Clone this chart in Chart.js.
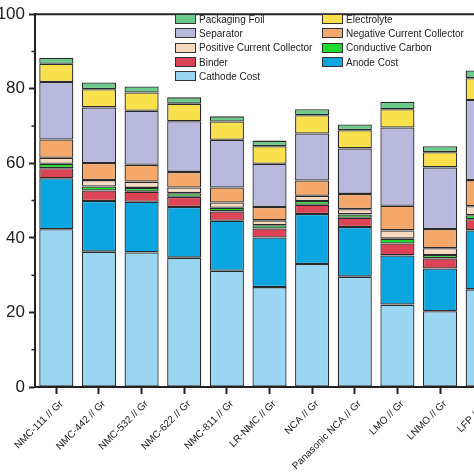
<!DOCTYPE html>
<html>
<head>
<meta charset="utf-8">
<script src="https://cdn.jsdelivr.net/npm/chart.js@4.4.0/dist/chart.umd.min.js"></script>
<style>
  html, body { margin: 0; padding: 0; background: #fff; overflow: hidden; }
  #wrap { position: relative; width: 474px; height: 474px; overflow: hidden; }
  #wrap canvas { position: absolute; left: 0; top: 0; }
  #legend {
    position: absolute; left: 175px; top: 12px;
    display: grid; grid-template-columns: 147px auto;
    font-family: Arial, "Liberation Sans", sans-serif; font-size: 10px; color: #222;
  }
  #legend .item { display: flex; align-items: center; height: 14.3px; white-space: nowrap; }
  #legend .box { width: 19px; height: 8px; border: 1px solid #333; margin-right: 3px; }
</style>
</head>
<body>
<div id="wrap">
  <canvas id="costChart" width="510" height="474"></canvas>
  <div id="legend"></div>
</div>
<script>
const categories = ['NMC-111 // Gr', 'NMC-442 // Gr', 'NMC-532 // Gr', 'NMC-622 // Gr', 'NMC-811 // Gr',
  'LR-NMC // Gr', 'NCA // Gr', 'Panasonic NCA // Gr', 'LMO // Gr', 'LNMO // Gr', 'LFP // Gr'];

// stack order, bottom to top
const cathodeCost      = [42.3, 36.3, 36.1, 34.7, 31.2, 26.8, 33.0, 29.6, 22.1, 20.3, 26.2];
const anodeCost        = [13.7, 13.6, 13.6, 13.6, 13.4, 13.3, 13.4, 13.3, 13.2, 11.5, 15.8];
const binder           = [2.7, 2.8, 2.7, 2.7, 2.5, 2.4, 2.5, 2.5, 3.2, 2.7, 3.0];
const conductiveCarbon = [1.2, 1.1, 1.0, 1.0, 1.0, 0.9, 1.0, 0.9, 1.3, 0.9, 1.1];
const positiveCC       = [1.6, 1.7, 1.7, 1.5, 1.4, 1.3, 1.4, 1.4, 2.2, 1.8, 2.4];
const negativeCC       = [4.9, 4.6, 4.5, 4.2, 4.0, 3.6, 4.1, 4.1, 6.6, 5.2, 7.0];
const separator        = [15.4, 14.9, 14.5, 13.6, 12.8, 11.6, 12.6, 12.2, 21.0, 16.5, 21.5];
const electrolyte      = [4.9, 4.9, 4.9, 4.7, 4.9, 4.7, 4.9, 4.9, 4.9, 4.1, 5.8];
const packagingFoil    = [1.6, 1.8, 1.6, 1.7, 1.4, 1.5, 1.6, 1.5, 2.0, 1.6, 2.1];

const yTicks = [0, 20, 40, 60, 80, 100];
const minorTicks = [10, 30, 50, 70, 90];

const axisColor = '#222';

const series = [
  { label: 'Cathode Cost', data: cathodeCost, color: '#9ad6f1' },
  { label: 'Anode Cost', data: anodeCost, color: '#0ba6df' },
  { label: 'Binder', data: binder, color: '#dc4456' },
  { label: 'Conductive Carbon', data: conductiveCarbon, color: '#1fd82a' },
  { label: 'Positive Current Collector', data: positiveCC, color: '#f7dabf' },
  { label: 'Negative Current Collector', data: negativeCC, color: '#f4a86c' },
  { label: 'Separator', data: separator, color: '#b9b9dd' },
  { label: 'Electrolyte', data: electrolyte, color: '#f8e14c' },
  { label: 'Packaging Foil', data: packagingFoil, color: '#6ccb8c' },
];

// legend: two columns, read row by row from the top of the stack down
const legend = document.getElementById('legend');
series.slice().reverse().forEach(s => {
  const item = document.createElement('div');
  item.className = 'item';
  item.innerHTML = '<span class="box" style="background:' + s.color + '"></span>' + s.label;
  legend.appendChild(item);
});

const frameLines = {
  id: 'frameLines',
  afterDraw(chart) {
    const { ctx, chartArea, scales } = chart;
    ctx.save();
    ctx.strokeStyle = axisColor;
    ctx.lineWidth = 2;
    ctx.beginPath();
    ctx.moveTo(chartArea.left, chartArea.top);
    ctx.lineTo(chartArea.right, chartArea.top);
    ctx.stroke();
    ctx.lineWidth = 1.5;
    ctx.beginPath();
    minorTicks.forEach(v => {
      const y = scales.y.getPixelForValue(v);
      ctx.moveTo(chartArea.left - 3.5, y);
      ctx.lineTo(chartArea.left, y);
    });
    ctx.stroke();
    ctx.restore();
  }
};

new Chart(document.getElementById('costChart'), {
  type: 'bar',
  data: {
    labels: categories,
    datasets: series.map(s => ({
      label: s.label,
      data: s.data,
      backgroundColor: s.color,
      borderColor: '#2b2b2b',
      borderWidth: 1.3,
      borderSkipped: false,
      barPercentage: 0.8,
      categoryPercentage: 1.0,
    })),
  },
  options: {
    responsive: false,
    animation: false,
    layout: { padding: { top: 10, right: 6, left: 0, bottom: 0 } },
    plugins: { legend: { display: false }, tooltip: { enabled: false } },
    scales: {
      x: {
        stacked: true,
        grid: { display: true, drawOnChartArea: false, offset: false, tickLength: 7, tickWidth: 2, tickColor: axisColor },
        border: { display: true, color: axisColor, width: 2 },
        ticks: {
          autoSkip: false, maxRotation: 45, minRotation: 45, padding: 4, labelOffset: 5,
          color: axisColor, font: { family: 'Arial', size: 10 },
        },
        afterFit(scale) { scale.height = 87; },
      },
      y: {
        stacked: true,
        min: 0, max: 100,
        afterBuildTicks(scale) { scale.ticks = yTicks.map(v => ({ value: v })); },
        grid: { display: true, drawOnChartArea: false, tickLength: 6, tickWidth: 2, tickColor: axisColor },
        border: { display: true, color: axisColor, width: 2 },
        ticks: { padding: 4, color: axisColor, font: { family: 'Arial', size: 17 } },
        afterFit(scale) { scale.width = 35; },
      },
    },
  },
  plugins: [frameLines],
});
</script>
</body>
</html>
